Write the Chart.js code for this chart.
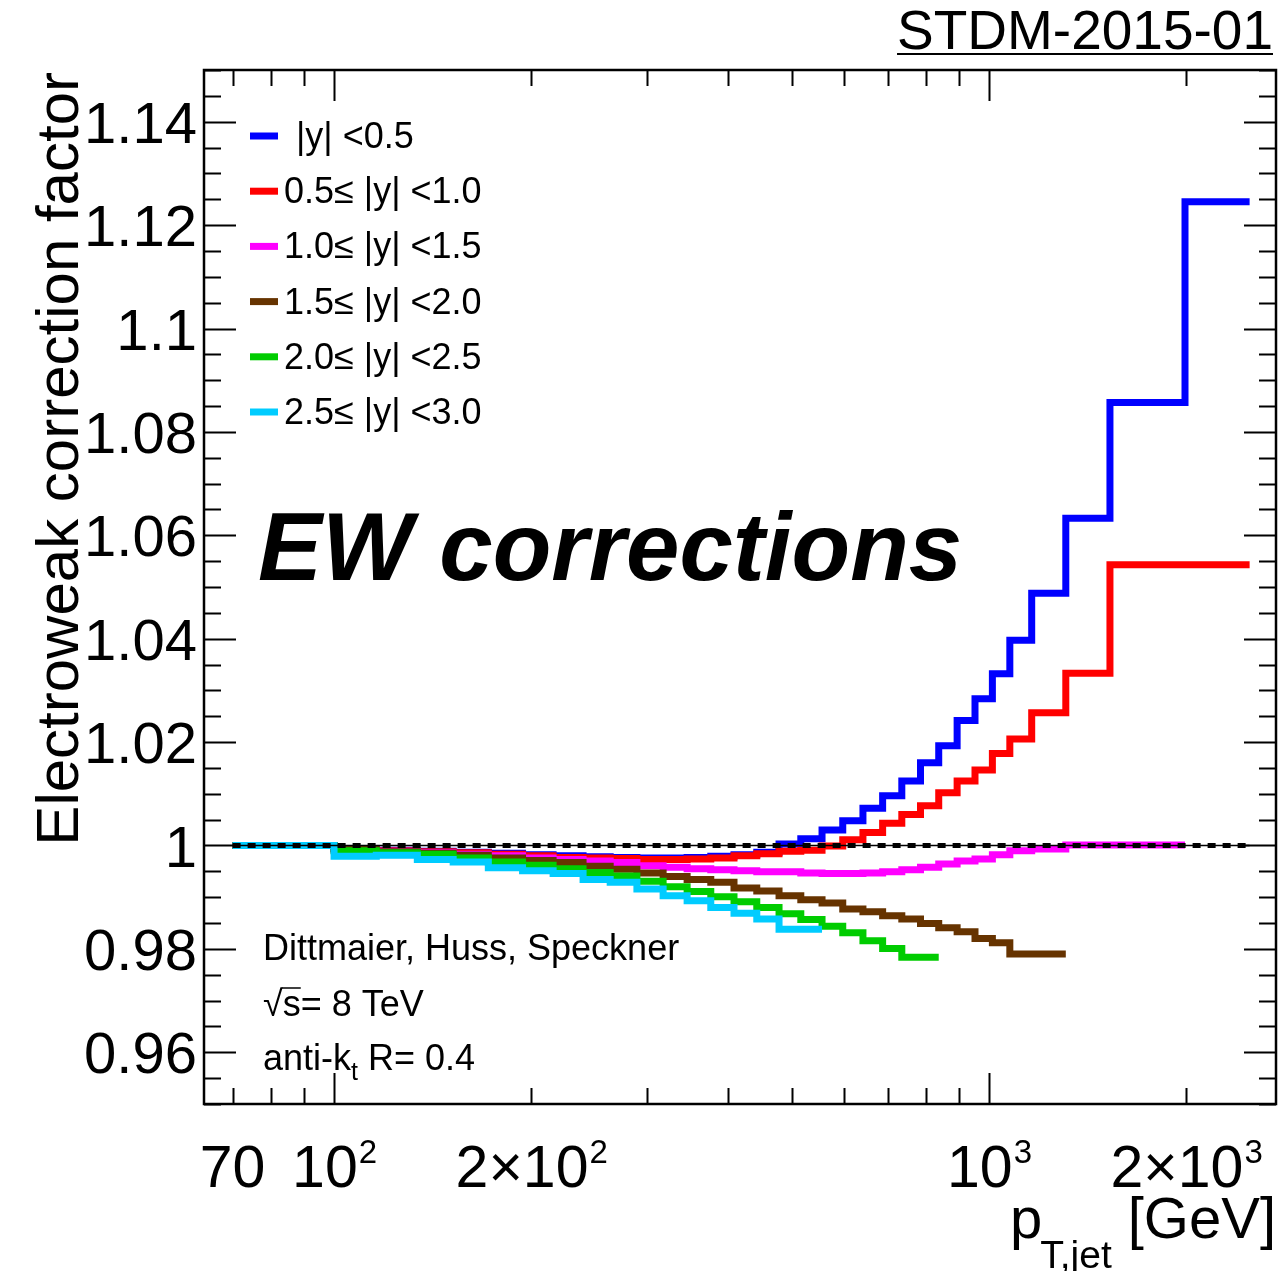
<!DOCTYPE html>
<html>
<head>
<meta charset="utf-8">
<title>EW corrections</title>
<script src="https://cdn.jsdelivr.net/npm/chart.js@4.4.1/dist/chart.umd.min.js"></script>
<style>
  html, body { margin: 0; padding: 0; background: #fff; }
  #wrap { width: 1285px; height: 1271px; }
</style>
</head>
<body>
<div id="wrap"><canvas id="ew-chart" width="1285" height="1271"></canvas></div>
<script>
/* ---------------------------------------------------------
   Electroweak correction factor vs jet pT, six |y| bins
--------------------------------------------------------- */

// bin edges in pT [GeV]
const ptEdges = [70, 85, 100, 116, 134, 152, 172, 194, 216, 240, 264, 290, 318, 346,
  376, 408, 442, 478, 516, 556, 598, 642, 688, 736, 786, 838, 894, 952, 1012,
  1076, 1162, 1310, 1530, 1992, 2500];

// one value per bin, starting at 70 GeV
const ewY00 = [1.0000, 1.0000, 0.9994, 0.9991, 0.9989, 0.9987, 0.9985, 0.9982, 0.9980,
  0.9978, 0.9977, 0.9976, 0.9976, 0.9977, 0.9979, 0.9982, 0.9987, 1.0003, 1.0013,
  1.0030, 1.0048, 1.0072, 1.0096, 1.0125, 1.0160, 1.0193, 1.0242, 1.0284, 1.0332,
  1.0397, 1.0488, 1.0633, 1.0857, 1.1245];
const ewY05 = [1.0000, 1.0000, 0.9993, 0.9990, 0.9988, 0.9986, 0.9983, 0.9980, 0.9977,
  0.9976, 0.9975, 0.9973, 0.9973, 0.9974, 0.9976, 0.9980, 0.9984, 0.9989, 0.9991,
  0.9999, 1.0011, 1.0025, 1.0043, 1.0060, 1.0077, 1.0102, 1.0125, 1.0146, 1.0178,
  1.0206, 1.0257, 1.0333, 1.0543, 1.0543];
const ewY10 = [1.0000, 1.0000, 0.9992, 0.9989, 0.9986, 0.9983, 0.9980, 0.9976, 0.9973,
  0.9970, 0.9967, 0.9961, 0.9958, 0.9955, 0.9953, 0.9951, 0.9949, 0.9949, 0.9947,
  0.9946, 0.9946, 0.9947, 0.9949, 0.9953, 0.9958, 0.9964, 0.9970, 0.9974, 0.9982,
  0.9990, 0.9993, 1.0001, 1.0001];
const ewY15 = [1.0000, 1.0000, 0.9994, 0.9988, 0.9985, 0.9981, 0.9976, 0.9971, 0.9967,
  0.9960, 0.9954, 0.9947, 0.9940, 0.9934, 0.9929, 0.9918, 0.9912, 0.9903, 0.9895,
  0.9889, 0.9877, 0.9872, 0.9864, 0.9858, 0.9849, 0.9841, 0.9833, 0.9820, 0.9812,
  0.9790, 0.9790];
const ewY20 = [1.0000, 1.0000, 0.9990, 0.9986, 0.9983, 0.9976, 0.9968, 0.9962, 0.9955,
  0.9948, 0.9941, 0.9931, 0.9920, 0.9911, 0.9901, 0.9891, 0.9880, 0.9868, 0.9857,
  0.9844, 0.9831, 0.9816, 0.9801, 0.9784, 0.9784];
const ewY25 = [1.0000, 1.0000, 0.9979, 0.9981, 0.9973, 0.9968, 0.9957, 0.9951, 0.9946,
  0.9934, 0.9929, 0.9916, 0.9903, 0.9893, 0.9880, 0.9869, 0.9858, 0.9838, 0.9838];

// unit reference line
const refLineX = [70, 2500];
const refLineY = 1;

const legendLabels = ["|y| <0.5", "0.5\u2264 |y| <1.0", "1.0\u2264 |y| <1.5",
  "1.5\u2264 |y| <2.0", "2.0\u2264 |y| <2.5", "2.5\u2264 |y| <3.0"];
const seriesColors = ["#0000ff", "#ff0000", "#ff00ff", "#663300", "#00cc00", "#00ccff"];

const yLabelValues = [0.96, 0.98, 1.0, 1.02, 1.04, 1.06, 1.08, 1.1, 1.12, 1.14];
const yLabels = ["0.96", "0.98", "1", "1.02", "1.04", "1.06", "1.08", "1.1", "1.12", "1.14"];
const xLabelValues = [70, 100, 200, 1000, 2000];
const xLabelBase = ["70", "10", "2\u00d710", "10", "2\u00d710"];
const xLabelSup = ["", "2", "2", "3", "3"];
const xMajorTicks = [100, 1000];
const xMinorTicks = [70, 80, 90, 200, 300, 400, 500, 600, 700, 800, 900, 2000];

const FONT = '"Liberation Sans", Arial, Helvetica, sans-serif';

function histPoints(values) {
  const pts = values.map((v, i) => ({ x: ptEdges[i], y: v }));
  pts.push({ x: ptEdges[values.length], y: values[values.length - 1] });
  return pts;
}

function histSet(label, values, color, order) {
  return {
    label,
    data: histPoints(values),
    borderColor: color,
    borderWidth: 7,
    stepped: true,
    pointRadius: 0,
    fill: false,
    borderJoinStyle: "miter",
    borderCapStyle: "butt",
    order,
  };
}

const allSeries = [ewY00, ewY05, ewY10, ewY15, ewY20, ewY25];
const datasets = allSeries.map((vals, i) =>
  histSet(legendLabels[i], vals, seriesColors[i], 6 - i));

datasets.push({
  label: "ref",
  data: refLineX.map(x => ({ x, y: refLineY })),
  borderColor: "#000",
  borderWidth: 1.5,
  pointRadius: 0,
  order: 0,
});
datasets.push({
  label: "ref-dash",
  data: refLineX.map(x => ({ x, y: refLineY })),
  borderColor: "#000",
  borderWidth: 5,
  borderDash: [8, 7],
  borderCapStyle: "butt",
  pointRadius: 0,
  order: 0,
});

// frame, inward ticks, axis labels and all the text
const decorations = {
  id: "decorations",
  afterDraw(chart) {
    const ctx = chart.ctx;
    const a = chart.chartArea;
    const xs = chart.scales.x;
    const ys = chart.scales.y;
    ctx.save();
    ctx.fillStyle = "#000";
    ctx.strokeStyle = "#000";

    // ticks
    ctx.lineWidth = 2;
    ctx.beginPath();
    for (let k = 0; k <= 40; k++) {
      const v = 0.95 + k * 0.005;
      const major = Math.round(v * 1000) % 20 === 0;
      const len = major ? 32 : 17;
      const py = Math.round(ys.getPixelForValue(v)) + 0.5;
      ctx.moveTo(a.left, py); ctx.lineTo(a.left + len, py);
      ctx.moveTo(a.right, py); ctx.lineTo(a.right - len, py);
    }
    const xTick = (v, len) => {
      const px = Math.round(xs.getPixelForValue(v)) + 0.5;
      ctx.moveTo(px, a.bottom); ctx.lineTo(px, a.bottom - len);
      ctx.moveTo(px, a.top); ctx.lineTo(px, a.top + len);
    };
    xMajorTicks.forEach(v => xTick(v, 31));
    xMinorTicks.forEach(v => xTick(v, 16));
    ctx.stroke();

    // frame
    ctx.lineWidth = 2.5;
    ctx.strokeRect(a.left, a.top, a.right - a.left, a.bottom - a.top);

    // y tick labels
    ctx.font = "58px " + FONT;
    ctx.textAlign = "right";
    ctx.textBaseline = "alphabetic";
    yLabelValues.forEach((v, i) => {
      ctx.fillText(yLabels[i], 197, ys.getPixelForValue(v) + 21);
    });

    // x tick labels with exponents
    ctx.textAlign = "left";
    xLabelValues.forEach((v, i) => {
      ctx.font = "59px " + FONT;
      const wb = ctx.measureText(xLabelBase[i]).width;
      ctx.font = "33px " + FONT;
      const ws = xLabelSup[i] ? ctx.measureText(xLabelSup[i]).width : 0;
      const x0 = xs.getPixelForValue(v) - (wb + ws) / 2;
      ctx.font = "59px " + FONT;
      ctx.fillText(xLabelBase[i], x0, 1187);
      if (xLabelSup[i]) {
        ctx.font = "33px " + FONT;
        ctx.fillText(xLabelSup[i], x0 + wb + 1, 1163);
      }
    });

    // x title: p_{T,jet} [GeV]
    ctx.textAlign = "right";
    ctx.font = "58px " + FONT;
    ctx.fillText("[GeV]", 1276, 1238);
    const wGeV = ctx.measureText("[GeV]").width;
    ctx.font = "39px " + FONT;
    const subRight = 1276 - wGeV - 16;
    ctx.fillText("T,jet", subRight, 1268);
    const wSub = ctx.measureText("T,jet").width;
    ctx.font = "58px " + FONT;
    ctx.fillText("p", subRight - wSub + 2, 1238);

    // y title
    ctx.save();
    ctx.translate(78, 72);
    ctx.rotate(-Math.PI / 2);
    ctx.font = "60px " + FONT;
    ctx.textAlign = "right";
    ctx.fillText("Electroweak correction factor", 0, 0);
    ctx.restore();

    // legend
    ctx.textAlign = "left";
    ctx.font = "36px " + FONT;
    legendLabels.forEach((lab, i) => {
      const cy = 136 + i * 55.2;
      ctx.strokeStyle = seriesColors[i];
      ctx.lineWidth = 7;
      ctx.beginPath();
      ctx.moveTo(250, cy); ctx.lineTo(278, cy);
      ctx.stroke();
      ctx.fillText(lab, i === 0 ? 296 : 284, cy + 12);
    });
    ctx.strokeStyle = "#000";

    // big label
    ctx.font = "italic bold 96px " + FONT;
    ctx.fillText("EW corrections", 258, 580);

    // theory / setup text
    ctx.font = "36px " + FONT;
    ctx.fillText("Dittmaier, Huss, Speckner", 263, 960);
    ctx.fillText("\u221a", 263, 1016);
    const wRad = ctx.measureText("\u221a").width;
    ctx.fillText("s= 8 TeV", 263 + wRad, 1016);
    const wS = ctx.measureText("s").width;
    ctx.lineWidth = 1.5;
    ctx.beginPath();
    ctx.moveTo(263 + wRad - 1, 988); ctx.lineTo(263 + wRad + wS, 988);
    ctx.stroke();
    ctx.fillText("anti-k", 263, 1070);
    const wAnti = ctx.measureText("anti-k").width;
    ctx.font = "25px " + FONT;
    ctx.fillText("t", 263 + wAnti, 1080);
    const wT = ctx.measureText("t").width;
    ctx.font = "36px " + FONT;
    ctx.fillText(" R= 0.4", 263 + wAnti + wT, 1070);

    // note id, underlined
    ctx.font = "55px " + FONT;
    ctx.textAlign = "right";
    ctx.fillText("STDM-2015-01", 1273, 49);
    const wId = ctx.measureText("STDM-2015-01").width;
    ctx.lineWidth = 2;
    ctx.beginPath();
    ctx.moveTo(1273 - wId, 54); ctx.lineTo(1273, 54);
    ctx.stroke();

    ctx.restore();
  },
};

new Chart(document.getElementById("ew-chart").getContext("2d"), {
  type: "line",
  data: { datasets },
  options: {
    responsive: false,
    animation: false,
    devicePixelRatio: 1,
    layout: { padding: { left: 204, top: 70, right: 9, bottom: 167 } },
    plugins: {
      legend: { display: false },
      tooltip: { enabled: false },
    },
    scales: {
      x: { type: "logarithmic", min: 63.3, max: 2743, display: false },
      y: { type: "linear", min: 0.95, max: 1.15, display: false },
    },
  },
  plugins: [decorations],
});
</script>
</body>
</html>
